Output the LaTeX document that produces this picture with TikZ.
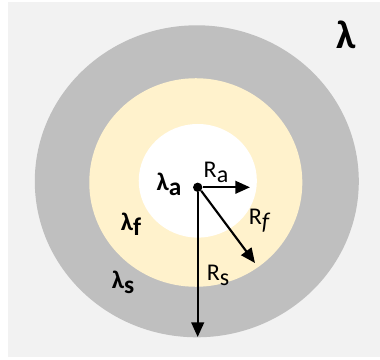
\documentclass[tikz,border=0pt]{standalone}
\usepackage{fontspec}
\setmainfont{Carlito}
\usepackage{tikz}
\usetikzlibrary{arrows.meta}

\definecolor{paper}{HTML}{F2F2F2}
\definecolor{shell}{HTML}{BFBFBF}
\definecolor{film}{HTML}{FFF2CC}
\newcommand{\lowsub}[1]{\raisebox{-0.2em}{#1}}

\begin{document}
\begin{tikzpicture}[
  x=0.75pt, y=-0.75pt,
  lam/.style={font=\fontsize{19}{21}\selectfont\bfseries, inner sep=0pt},
  rad/.style={font=\fontsize{18}{20}\selectfont, inner sep=0pt},
  line/.style={-{Triangle[length=11pt, width=9.5pt]}, line width=1.6pt}
]
\useasboundingbox (0,0) rectangle (380,360);
% regions
\fill[paper] (8,2) rectangle (380,357);
\fill[shell] (196.8,181.3) ellipse [x radius=121.5pt, y radius=117pt];
\fill[film] (195.8,182.5) ellipse [x radius=79.9pt, y radius=78.2pt];
\fill[white] (197.8,180.8) ellipse [x radius=44.3pt, y radius=42.6pt];

\node[circle, fill=black, inner sep=0pt, minimum size=7pt] (c) at (197.7,187.3) {};
\coordinate (ea) at (250,187.3);
\coordinate (ef) at (255,263);
\coordinate (es) at (197.7,337);

\draw[line] (c) -- (ea);
\draw[line] (c.south east) -- (ef);
\draw[line] (c.south) -- (es);

\node[lam, font=\fontsize{30}{32}\selectfont\bfseries] (l) at (346.5,35) {λ};
\node[lam] (la) at (169,184) {λ\lowsub{a}};
\node[lam] (lf) at (131,224) {λ\lowsub{f}};
\node[lam] (ls) at (123,282) {λ\lowsub{s}};
\node[rad] (ra) at (216,172) {R\lowsub{a}};
\node[rad] (rf) at (259,221) {R\lowsub{\itshape f}};
\node[rad] (rs) at (218,275) {R\lowsub{s}};
\end{tikzpicture}
\end{document}
